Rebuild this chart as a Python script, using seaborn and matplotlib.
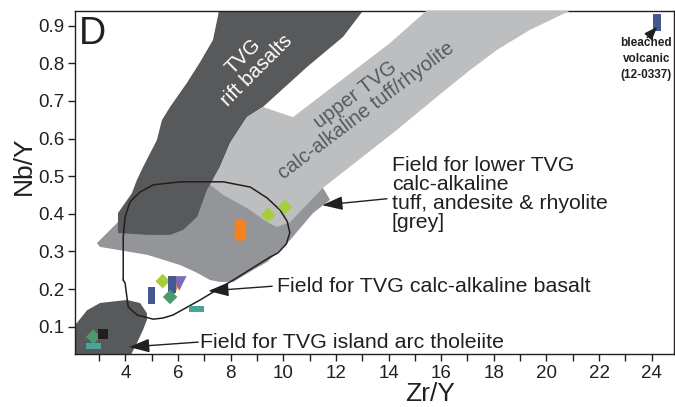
import matplotlib
matplotlib.use("Agg")
import matplotlib.pyplot as plt
import seaborn as sns

# ---------------- data (Zr/Y, Nb/Y) ----------------
rift_x = [7.62, 13.25, 12.27, 10.90, 9.23, 8.62, 7.98, 7.60, 7.22, 7.10, 6.73, 6.19, 5.70,
          4.86, 3.72, 3.72, 4.25, 4.44, 4.67, 5.20, 5.39, 5.70, 6.34, 6.84, 7.33]
rift_y = [0.96, 0.96, 0.870, 0.790, 0.684, 0.657, 0.588, 0.525, 0.477, 0.464, 0.392, 0.357, 0.344,
          0.344, 0.349, 0.402, 0.455, 0.490, 0.524, 0.596, 0.649, 0.684, 0.748, 0.803, 0.862]

upper_x = [9.23, 10.37, 14.06, 15.77, 21.5, 19.38, 18.13, 17.10, 15.84, 14.32, 11.51, 10.26,
           9.76, 9.39, 8.63, 7.72, 7.22, 7.60, 7.98, 8.62]
upper_y = [0.684, 0.657, 0.854, 0.96, 0.96, 0.889, 0.836, 0.782, 0.711, 0.623, 0.469, 0.378,
           0.365, 0.378, 0.415, 0.450, 0.477, 0.525, 0.588, 0.657]

lower_x = [2.92, 3.72, 4.94, 6.84, 7.50, 8.50, 10.30, 11.30, 11.51, 11.78, 11.13, 10.26, 9.88,
           9.39, 8.86, 8.10, 7.60, 7.22, 6.73, 6.08, 4.83, 3.04]
lower_y = [0.322, 0.378, 0.423, 0.470, 0.500, 0.470, 0.450, 0.480, 0.469, 0.437, 0.402, 0.330, 0.304,
           0.272, 0.251, 0.219, 0.219, 0.224, 0.243, 0.264, 0.291, 0.312]

iat_x = [1.8, 2.09, 2.55, 3.04, 4.06, 4.56, 4.82, 4.82, 4.67, 4.37, 4.18, 4.10, 1.8]
iat_y = [0.10, 0.104, 0.144, 0.163, 0.171, 0.163, 0.136, 0.118, 0.091, 0.046, 0.022, 0.0, 0.0]

cab_x = [3.92, 3.92, 3.99, 4.18, 4.56, 5.06, 6.08, 7.72, 8.75, 9.39, 9.88, 10.15, 10.25, 10.12,
         9.80, 9.50, 8.10, 6.84, 5.81, 5.43, 5.06, 4.45, 4.11, 3.99, 3.92]
cab_y = [0.224, 0.338, 0.392, 0.432, 0.458, 0.477, 0.485, 0.485, 0.471, 0.442, 0.410, 0.380, 0.350, 0.320,
         0.296, 0.285, 0.224, 0.171, 0.131, 0.123, 0.120, 0.131, 0.152, 0.216, 0.224]

orange_tri_x = [5.85]
orange_tri_y = [0.198]
purple_x = [6.05]
purple_y = [0.215]
lime_x = [5.42, 9.43, 10.07]
lime_y = [0.221, 0.397, 0.418]
blue_x = [5.00, 5.77, 24.20]
blue_y = [0.182, 0.213, 0.909]
green_x = [5.70, 2.78]
green_y = [0.179, 0.073]
teal_x = [6.69, 2.78]
teal_y = [0.147, 0.049]
orange_x = [8.37, 8.37]
orange_y = [0.370, 0.344]
black_x = [3.15]
black_y = [0.081]

x_major = [4, 6, 8, 10, 12, 14, 16, 18, 20, 22, 24]
x_minor = [3, 5, 7, 9, 11, 13, 15, 17, 19, 21, 23]
y_major = [0.1, 0.2, 0.3, 0.4, 0.5, 0.6, 0.7, 0.8, 0.9]

# ---------------- style ----------------
sns.set_style("ticks")
plt.rcParams['font.family'] = ['Liberation Sans', 'DejaVu Sans']
INK = '#231f20'
DARK = '#58595b'
MED = '#939598'
LIGHT = '#bcbec0'

fig = plt.figure(figsize=(6.75, 4.07), dpi=100)
ax = fig.add_axes([0.1116, 0.1302, 0.887, 0.8428])

ax.fill(lower_x, lower_y, color=MED, lw=0, zorder=1)
ax.fill(rift_x, rift_y, color=DARK, lw=0, zorder=2)
ax.fill(upper_x, upper_y, color=LIGHT, lw=0, zorder=3)
ax.fill(iat_x, iat_y, color=DARK, lw=0, zorder=2)
ax.plot(cab_x, cab_y, color=INK, lw=1.1, zorder=4)

vrect = [(-0.22, -0.5), (0.22, -0.5), (0.22, 0.5), (-0.22, 0.5)]
hrect = [(-0.5, -0.21), (0.5, -0.21), (0.5, 0.21), (-0.5, 0.21)]

def pts(x, y, color, marker, s, z):
    sns.scatterplot(x=x, y=y, ax=ax, color=color, marker=marker, s=s,
                    edgecolor='none', linewidth=0, zorder=z, legend=False)

pts(orange_tri_x, orange_tri_y, '#f58220', 'v', 60, 5)
pts(purple_x, purple_y, '#7d6db3', 'v', 110, 6)
pts(lime_x, lime_y, '#a6cd3a', 'D', 55, 7)
pts(blue_x, blue_y, '#45598f', vrect, 150, 8)
pts(green_x, green_y, '#4c9a70', 'D', 55, 9)
pts(teal_x, teal_y, '#4aa39a', hrect, 115, 10)
pts(orange_x, orange_y, '#f58220', 'o', 80, 8)
pts(black_x, black_y, INK, 's', 55, 10)

ax.set_xlim(2.10, 24.85)
ax.set_ylim(0.0274, 0.939)
ax.set_xticks(x_major)
ax.set_xticks(x_minor, minor=True)
ax.set_yticks(y_major)
ax.set_xticklabels([str(v) for v in x_major])
ax.set_yticklabels([f"{v:.1f}" for v in y_major])
ax.tick_params(axis='both', which='both', direction='out', length=5, width=1,
               color=INK, labelcolor=INK, labelsize=13.5, pad=3)
for sp in ax.spines.values():
    sp.set_visible(True)
    sp.set_linewidth(1.0)
    sp.set_color(INK)
ax.set_xlabel('')
ax.set_ylabel('')

ax.text(-0.0865, 0.548, 'Nb/Y', transform=ax.transAxes, rotation=90, ha='center',
        va='center', fontsize=19, color=INK)
ax.text(0.592, -0.118, 'Zr/Y', transform=ax.transAxes, ha='center', va='center',
        fontsize=19, color=INK)

ax.text(0.006, 0.985, 'D', transform=ax.transAxes, ha='left', va='top', fontsize=27, color=INK,
        zorder=12)

ax.text(8.75, 0.80, 'TVG\nrift basalts', rotation=45, rotation_mode='anchor', ha='center',
        va='center', fontsize=14.5, color='white', linespacing=1.0, zorder=12)
ax.text(12.95, 0.695, 'upper TVG\ncalc-alkaline tuff/rhyolite', rotation=37, rotation_mode='anchor',
        ha='center', va='center', fontsize=14.5, color=DARK, linespacing=1.0, zorder=12)

ax.text(14.13, 0.553, 'Field for lower TVG\ncalc-alkaline\ntuff, andesite & rhyolite\n[grey]',
        ha='left', va='top', fontsize=15.3, color=INK, linespacing=1.0, zorder=12)
ax.text(9.76, 0.2055, 'Field for TVG calc-alkaline basalt', ha='left', va='center',
        fontsize=15.4, color=INK, zorder=12)
ax.text(6.85, 0.059, 'Field for TVG island arc tholeiite', ha='left', va='center',
        fontsize=15.4, color=INK, zorder=12)
ax.text(23.80, 0.870, 'bleached\nvolcanic\n(12-0337)', ha='center', va='top', fontsize=8.5,
        fontweight='bold', color=INK, linespacing=1.45, zorder=12)

arrow = dict(arrowstyle='-|>,head_length=1.25,head_width=0.42', color=INK, lw=1.0,
             shrinkA=0, shrinkB=0, mutation_scale=10)
ax.annotate('', xy=(11.48, 0.423), xytext=(13.94, 0.440), arrowprops=arrow, zorder=12)
ax.annotate('', xy=(7.15, 0.195), xytext=(9.58, 0.2075), arrowprops=arrow, zorder=12)
ax.annotate('', xy=(4.14, 0.046), xytext=(6.77, 0.059), arrowprops=arrow, zorder=12)
small = dict(arrowstyle='-|>,head_length=0.8,head_width=0.3', color=INK, lw=1.0,
             shrinkA=0, shrinkB=0, mutation_scale=10)
ax.annotate('', xy=(24.21, 0.897), xytext=(23.83, 0.868), arrowprops=small, zorder=12)

fig.savefig('out.png', dpi=100)
